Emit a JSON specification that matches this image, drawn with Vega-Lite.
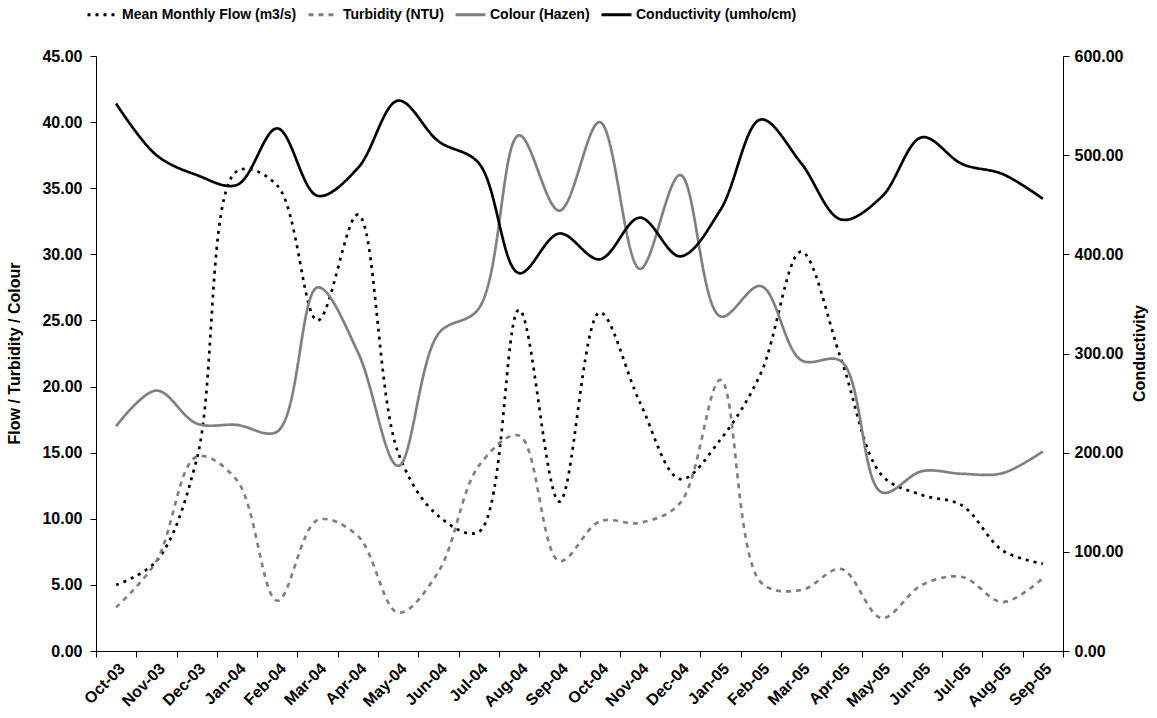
{
  "$schema": "https://vega.github.io/schema/vega-lite/v6.json",
  "autosize": {"type": "none"},
  "width": 967,
  "height": 595,
  "padding": {"left": 96, "top": 56, "right": 94, "bottom": 67},
  "background": "white",
  "config": {
    "view": {"stroke": null},
    "font": "Liberation Sans",
    "axis": {
      "labelFont": "Liberation Sans",
      "labelFontWeight": "bold",
      "labelFontSize": 16,
      "labelColor": "#000000",
      "titleFont": "Liberation Sans",
      "titleFontWeight": "bold",
      "titleFontSize": 16,
      "titleColor": "#000000",
      "domainColor": "#000000",
      "tickColor": "#000000",
      "tickSize": 6,
      "grid": false
    },
    "legend": {
      "labelFont": "Liberation Sans",
      "labelFontWeight": "bold",
      "labelFontSize": 14,
      "labelColor": "#000000",
      "labelLimit": 0
    }
  },
  "data": {
    "values": [
      {"month": "Oct-03", "flow": 5.0, "turbidity": 3.3, "colour": 17.0, "conductivity": 552},
      {"month": "Nov-03", "flow": 6.8, "turbidity": 6.8, "colour": 19.7, "conductivity": 500},
      {"month": "Dec-03", "flow": 14.5, "turbidity": 14.7, "colour": 17.2, "conductivity": 480},
      {"month": "Jan-04", "flow": 36.3, "turbidity": 12.9, "colour": 17.1, "conductivity": 470},
      {"month": "Feb-04", "flow": 35.2, "turbidity": 3.8, "colour": 16.6, "conductivity": 527},
      {"month": "Mar-04", "flow": 25.0, "turbidity": 9.9, "colour": 27.5, "conductivity": 459},
      {"month": "Apr-04", "flow": 33.0, "turbidity": 8.7, "colour": 22.6, "conductivity": 487},
      {"month": "May-04", "flow": 15.0, "turbidity": 2.9, "colour": 14.0, "conductivity": 555},
      {"month": "Jun-04", "flow": 10.2, "turbidity": 6.0, "colour": 24.0, "conductivity": 514},
      {"month": "Jul-04", "flow": 9.0, "turbidity": 14.0, "colour": 25.9, "conductivity": 492},
      {"month": "Aug-04", "flow": 25.8, "turbidity": 16.3, "colour": 39.0, "conductivity": 381},
      {"month": "Sep-04", "flow": 11.3, "turbidity": 6.8, "colour": 33.3, "conductivity": 421},
      {"month": "Oct-04", "flow": 25.6, "turbidity": 9.8, "colour": 40.0, "conductivity": 395},
      {"month": "Nov-04", "flow": 18.8, "turbidity": 9.7, "colour": 28.9, "conductivity": 437},
      {"month": "Dec-04", "flow": 13.0, "turbidity": 11.2, "colour": 36.0, "conductivity": 398},
      {"month": "Jan-05", "flow": 16.0, "turbidity": 20.5, "colour": 25.3, "conductivity": 445},
      {"month": "Feb-05", "flow": 21.0, "turbidity": 5.2, "colour": 27.6, "conductivity": 536},
      {"month": "Mar-05", "flow": 30.2, "turbidity": 4.6, "colour": 22.0, "conductivity": 492},
      {"month": "Apr-05", "flow": 22.0, "turbidity": 6.2, "colour": 21.9, "conductivity": 435},
      {"month": "May-05", "flow": 13.3, "turbidity": 2.5, "colour": 12.0, "conductivity": 458},
      {"month": "Jun-05", "flow": 11.8, "turbidity": 5.0, "colour": 13.6, "conductivity": 518},
      {"month": "Jul-05", "flow": 11.0, "turbidity": 5.6, "colour": 13.4, "conductivity": 491},
      {"month": "Aug-05", "flow": 7.6, "turbidity": 3.7, "colour": 13.45, "conductivity": 481},
      {"month": "Sep-05", "flow": 6.6, "turbidity": 5.5, "colour": 15.1, "conductivity": 456}
    ]
  },
  "encoding": {
    "x": {
      "field": "month",
      "type": "ordinal",
      "sort": null,
      "scale": {"type": "band", "paddingInner": 0, "paddingOuter": 0},
      "axis": {
        "title": null,
        "labelAngle": -45,
        "tickBand": "extent",
        "labelPadding": 3,
        "domainWidth": 1
      }
    }
  },
  "layer": [
    {
      "transform": [{"fold": ["flow", "turbidity", "colour"], "as": ["series", "value"]}],
      "mark": {"type": "line", "interpolate": "catmull-rom", "strokeWidth": 2.7},
      "encoding": {
        "y": {
          "field": "value",
          "type": "quantitative",
          "scale": {"domain": [0, 45]},
          "axis": {
            "orient": "left",
            "values": [0, 5, 10, 15, 20, 25, 30, 35, 40, 45],
            "format": ".2f",
            "title": "Flow / Turbidity / Colour",
            "labelPadding": 8,
            "titleAngle": 270,
            "titleX": -74,
            "titleY": 297,
            "titleBaseline": "bottom"
          }
        },
        "color": {
          "field": "series",
          "type": "nominal",
          "scale": {
            "domain": ["flow", "turbidity", "colour", "conductivity"],
            "range": ["#000000", "#808080", "#808080", "#000000"]
          },
          "legend": {
            "title": null,
            "orient": "none",
            "direction": "horizontal",
            "legendX": -10,
            "legendY": -58,
            "symbolType": "stroke",
            "symbolSize": 900,
            "symbolStrokeWidth": 3,
            "labelOffset": 3,
            "columnPadding": 5,
            "labelExpr": "datum.value == 'flow' ? 'Mean Monthly Flow (m3/s)' : datum.value == 'turbidity' ? 'Turbidity (NTU)' : datum.value == 'colour' ? 'Colour (Hazen)' : 'Conductivity (umho/cm)'"
          }
        },
        "strokeDash": {
          "field": "series",
          "type": "nominal",
          "scale": {
            "domain": ["flow", "turbidity", "colour", "conductivity"],
            "range": [[3, 5], [5, 5], [1, 0], [1, 0]]
          },
          "legend": {
            "title": null,
            "orient": "none",
            "direction": "horizontal",
            "legendX": -10,
            "legendY": -58,
            "symbolType": "stroke",
            "symbolSize": 900,
            "symbolStrokeWidth": 3,
            "labelOffset": 3,
            "columnPadding": 5,
            "labelExpr": "datum.value == 'flow' ? 'Mean Monthly Flow (m3/s)' : datum.value == 'turbidity' ? 'Turbidity (NTU)' : datum.value == 'colour' ? 'Colour (Hazen)' : 'Conductivity (umho/cm)'"
          }
        }
      }
    },
    {
      "transform": [{"fold": ["conductivity"], "as": ["series", "value"]}],
      "mark": {"type": "line", "interpolate": "catmull-rom", "strokeWidth": 2.7},
      "encoding": {
        "y": {
          "field": "value",
          "type": "quantitative",
          "scale": {"domain": [0, 600]},
          "axis": {
            "orient": "right",
            "values": [0, 100, 200, 300, 400, 500, 600],
            "format": ".2f",
            "title": "Conductivity",
            "labelPadding": 5,
            "titleAngle": 270,
            "titleX": 84,
            "titleY": 297,
            "titleBaseline": "bottom"
          }
        },
        "color": {"field": "series", "type": "nominal"},
        "strokeDash": {"field": "series", "type": "nominal"}
      }
    }
  ],
  "resolve": {"scale": {"y": "independent"}, "axis": {"y": "independent"}}
}
